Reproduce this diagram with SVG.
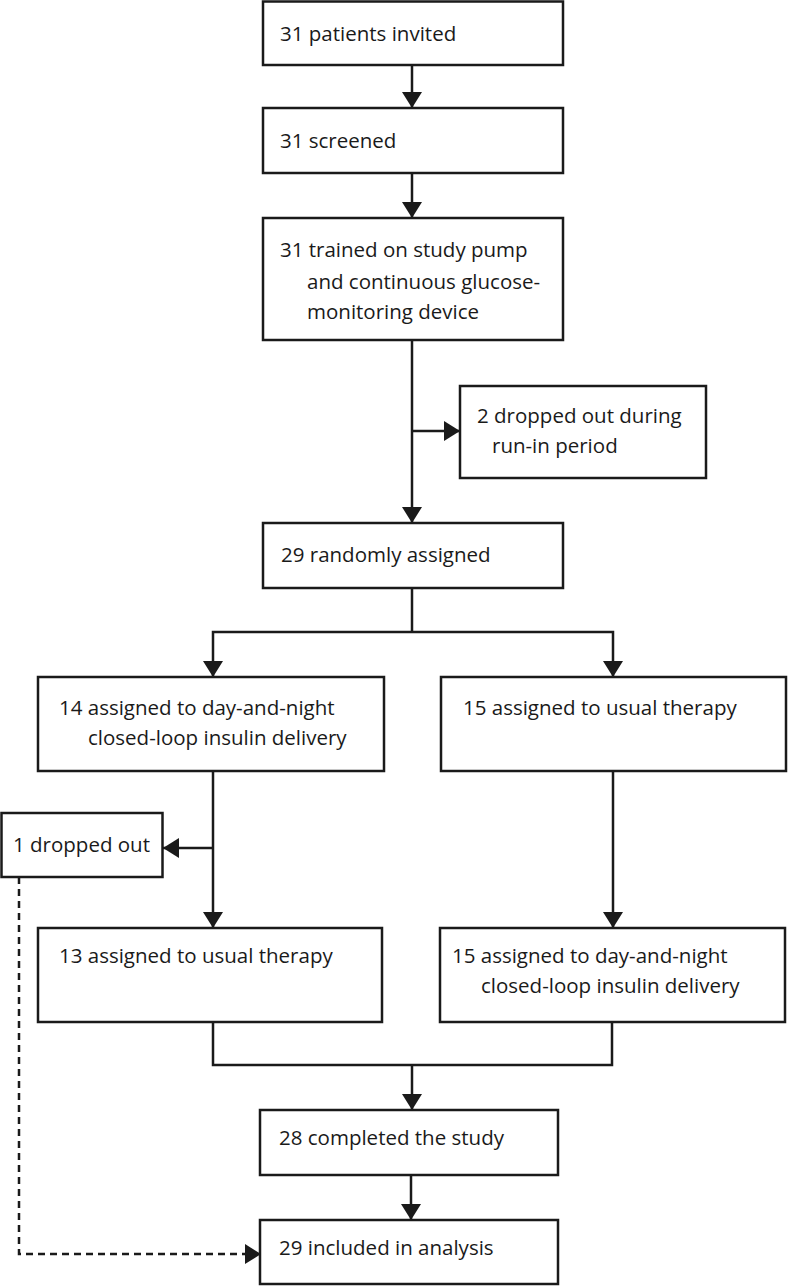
<svg xmlns="http://www.w3.org/2000/svg" width="788" height="1286" viewBox="0 0 788 1286">
<style>
.box{fill:#fff;stroke:#1a1a1a;stroke-width:2.5}
.ln{fill:none;stroke:#1a1a1a;stroke-width:2.5}
.dash{fill:none;stroke:#1a1a1a;stroke-width:2.5;stroke-dasharray:7 5}
text{font-family:"Open Sans","Liberation Sans",sans-serif;font-size:20.5px;fill:#1a1a1a}
</style>
<defs>
<marker id="ah" markerUnits="userSpaceOnUse" markerWidth="20" markerHeight="20" viewBox="0 0 16 20" refX="16" refY="10" orient="auto">
<path d="M0,0 L16,10 L0,20 Z" fill="#1a1a1a"/>
</marker>
</defs>
<rect width="788" height="1286" fill="#fff"/>
<g id="connectors">
<line class="ln" x1="412" y1="65" x2="412" y2="108" marker-end="url(#ah)"/>
<line class="ln" x1="412" y1="173" x2="412" y2="218" marker-end="url(#ah)"/>
<line class="ln" x1="412" y1="340" x2="412" y2="523" marker-end="url(#ah)"/>
<line class="ln" x1="412" y1="431" x2="460" y2="431" marker-end="url(#ah)"/>
<polyline class="ln" points="412,588 412,632"/>
<polyline class="ln" points="412,632 213,632 213,677" marker-end="url(#ah)"/>
<polyline class="ln" points="412,632 613,632 613,677" marker-end="url(#ah)"/>
<line class="ln" x1="213" y1="771" x2="213" y2="928" marker-end="url(#ah)"/>
<line class="ln" x1="213" y1="848" x2="163" y2="848" marker-end="url(#ah)"/>
<line class="ln" x1="613" y1="771" x2="613" y2="928" marker-end="url(#ah)"/>
<polyline class="ln" points="213,1022 213,1065 612,1065 612,1022"/>
<line class="ln" x1="412" y1="1065" x2="412" y2="1110" marker-end="url(#ah)"/>
<line class="ln" x1="411" y1="1175" x2="411" y2="1220" marker-end="url(#ah)"/>
<polyline class="dash" points="19,877 19,1254 245,1254"/>
<path d="M245,1244 L261,1254 L245,1264 Z" fill="#1a1a1a"/>
</g>
<g id="n1"><rect class="box" x="263" y="1.5" width="300" height="63.5"/><text x="280" y="41">31 patients invited</text></g>
<g id="n2"><rect class="box" x="263" y="108" width="300" height="65"/><text x="280" y="148">31 screened</text></g>
<g id="n3"><rect class="box" x="263" y="218" width="300" height="122"/><text x="280" y="257">31 trained on study pump</text><text x="307" y="289">and continuous glucose-</text><text x="307" y="319">monitoring device</text></g>
<g id="n4"><rect class="box" x="460" y="386" width="246" height="92"/><text x="477" y="423">2 dropped out during</text><text x="492" y="453">run-in period</text></g>
<g id="n5"><rect class="box" x="263" y="523" width="300" height="65"/><text x="281" y="562">29 randomly assigned</text></g>
<g id="n6"><rect class="box" x="38" y="677" width="346" height="94"/><text x="59" y="715">14 assigned to day-and-night</text><text x="88" y="745">closed-loop insulin delivery</text></g>
<g id="n7"><rect class="box" x="441" y="677" width="345" height="94"/><text x="463" y="715">15 assigned to usual therapy</text></g>
<g id="n8"><rect class="box" x="1.5" y="813" width="161" height="64"/><text x="13" y="852">1 dropped out</text></g>
<g id="n9"><rect class="box" x="38" y="928" width="344" height="94"/><text x="59" y="963">13 assigned to usual therapy</text></g>
<g id="n10"><rect class="box" x="440" y="928" width="345" height="94"/><text x="452" y="963">15 assigned to day-and-night</text><text x="481" y="993">closed-loop insulin delivery</text></g>
<g id="n11"><rect class="box" x="260" y="1110" width="298" height="65"/><text x="279" y="1145">28 completed the study</text></g>
<g id="n12"><rect class="box" x="260" y="1220" width="298" height="64"/><text x="279" y="1255">29 included in analysis</text></g>
</svg>
